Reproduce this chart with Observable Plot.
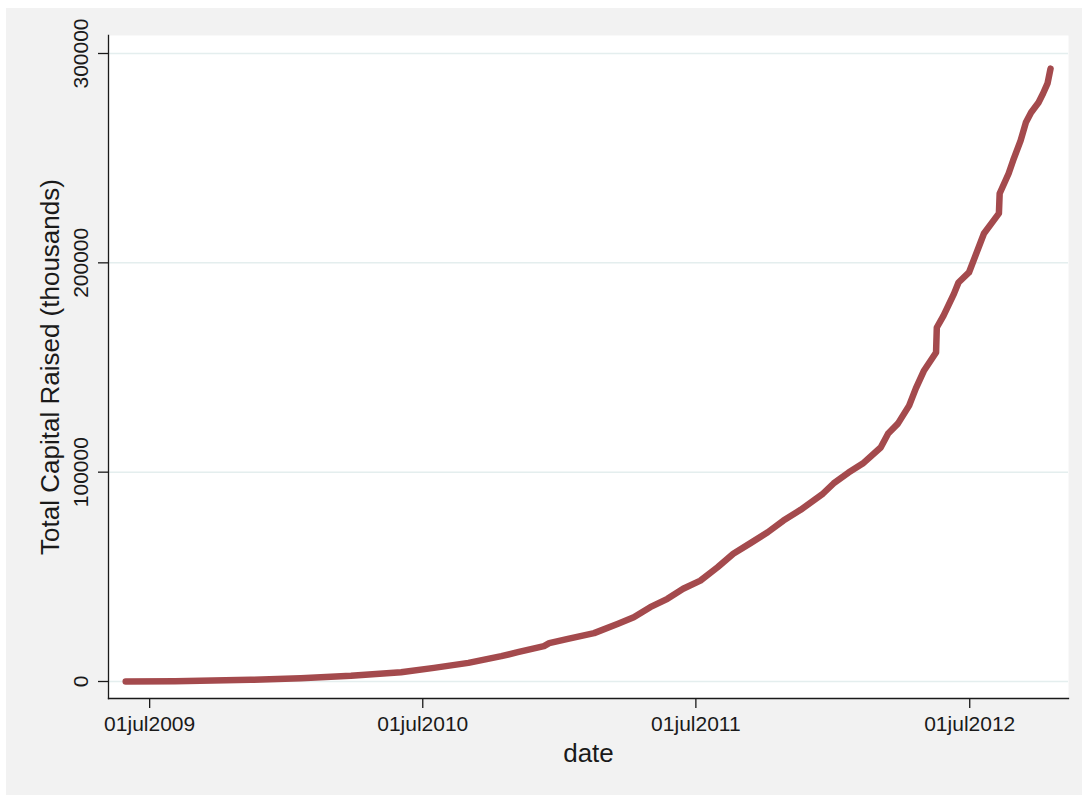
<!DOCTYPE html>
<html><head><meta charset="utf-8">
<script src="https://cdn.jsdelivr.net/npm/d3@7"></script>
<script src="https://cdn.jsdelivr.net/npm/@observablehq/plot@0.6"></script>
<style>
html,body{margin:0;padding:0;background:#fff;}
#panel{position:absolute;left:6px;top:8px;width:1076px;height:787px;background:#f2f2f2;}
</style></head><body><div id="panel"></div>
<script>
const dates = ["2009-05-30","2009-08-04","2009-11-13","2010-01-19","2010-03-27","2010-06-02","2010-07-16","2010-08-31","2010-10-14","2010-11-05","2010-12-10","2010-12-17","2011-01-11","2011-02-15","2011-03-19","2011-04-09","2011-05-01","2011-05-24","2011-06-14","2011-07-07","2011-07-30","2011-08-20","2011-09-12","2011-10-05","2011-10-26","2011-11-18","2011-12-18","2012-01-01","2012-01-21","2012-02-09","2012-03-04","2012-03-14","2012-03-27","2012-04-11","2012-04-20","2012-05-01","2012-05-17","2012-05-18","2012-05-27","2012-06-10","2012-06-16","2012-06-30","2012-07-20","2012-08-09","2012-08-10","2012-08-22","2012-08-28","2012-09-07","2012-09-14","2012-09-21","2012-10-01","2012-10-07","2012-10-13","2012-10-17"];
const values = [0,100,800,1600,2700,4400,6500,8900,12100,14000,16900,18300,20400,23100,27600,30700,35500,39500,44300,48200,54600,61000,66100,71300,76900,82000,89800,94600,99800,104100,111800,118500,123200,131800,140000,148600,157200,169100,174800,185300,190600,195400,214000,223600,233100,242700,248900,258400,267000,271800,276600,280900,285700,292800];
const yTicks = [0, 100000, 200000, 300000];
const xTickDates = ["2009-07-01", "2010-07-01", "2011-07-01", "2012-07-01"];
const xTickLabels = ["01jul2009", "01jul2010", "01jul2011", "01jul2012"];
const xLabel = "date";
const yLabel = "Total Capital Raised (thousands)";

const data = dates.map((d, i) => ({date: new Date(d + "T00:00:00Z"), value: values[i]}));
const xTicks = xTickDates.map(d => new Date(d + "T00:00:00Z"));

const chart = Plot.plot({
  width: 1076, height: 787,
  marginLeft: 102, marginRight: 14, marginTop: 27, marginBottom: 97,
  style: {background: "transparent", fontFamily: "'Liberation Sans', Arial, sans-serif", fontSize: "21px", color: "#1a1a1a", overflow: "visible"},
  x: {type: "utc", domain: [new Date("2009-05-07T00:00:00Z"), new Date("2012-11-10T00:00:00Z")]},
  y: {domain: [-8120, 308600]},
  marks: [
    Plot.frame({fill: "white", stroke: null}),
    Plot.gridY(yTicks, {stroke: "#e4eeee", strokeOpacity: 1, strokeWidth: 1.5}),
    Plot.line(data, {x: "date", y: "value", stroke: "#a44a4d", strokeWidth: 6.5, strokeLinecap: "round", strokeLinejoin: "round"}),
    Plot.axisY(yTicks, {tickSize: 10, tickPadding: 11, tickRotate: -90, tickFormat: d => String(d), label: null, fontSize: 21, strokeWidth: 1.3}),
    Plot.axisX(xTicks, {tickSize: 10, tickPadding: 8, tickFormat: (d, i) => xTickLabels[i], label: null, fontSize: 21, strokeWidth: 1.3}),
    Plot.frame({anchor: "left", stroke: "#1a1a1a", strokeWidth: 1.3}),
    Plot.frame({anchor: "bottom", stroke: "#1a1a1a", strokeWidth: 1.3}),
    Plot.text([xLabel], {frameAnchor: "bottom", dy: 63, lineAnchor: "bottom", fontSize: 26, fill: "#1a1a1a"}),
    Plot.text([yLabel], {frameAnchor: "left", dx: -68, rotate: -90, textAnchor: "middle", lineAnchor: "top", fontSize: 26, fill: "#1a1a1a"})
  ]
});
document.getElementById("panel").appendChild(chart);
</script>
</body></html>
